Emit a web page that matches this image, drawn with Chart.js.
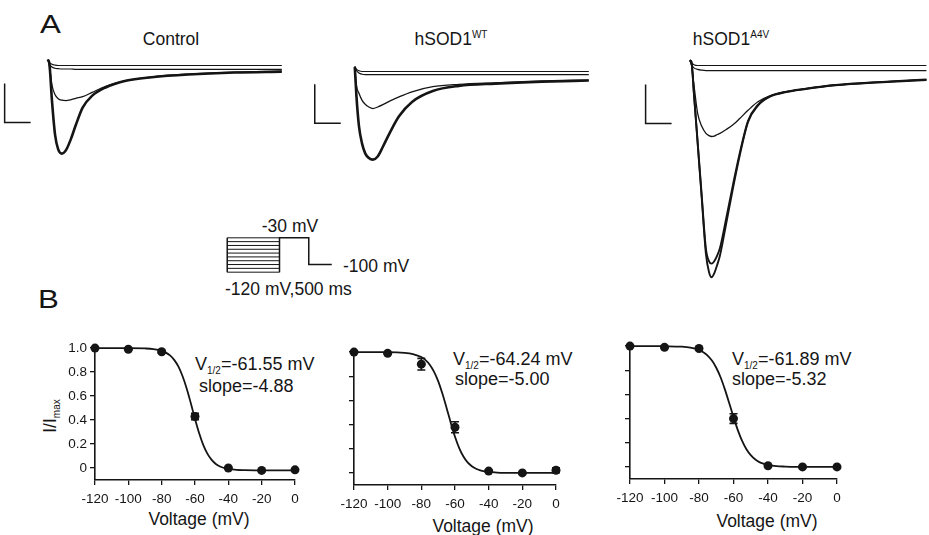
<!DOCTYPE html>
<html>
<head>
<meta charset="utf-8">
<script src="https://cdn.jsdelivr.net/npm/chart.js@4"></script>
<style>
body { margin: 0; background: #fff; width: 929px; height: 535px; position: relative; overflow: hidden;
       font-family: "Liberation Sans", Arial, sans-serif; color: #151515; }
canvas { position: absolute; }
.t { position: absolute; line-height: 1; white-space: nowrap; font-size: 17.5px; }
.c { transform: translateX(-50%); }
.big { font-size: 25px; transform: scaleX(1.25); transform-origin: left top; }
.ann { font-size: 18px; }
.sup { font-size: 10px; position: relative; top: -7px; }
.sub { font-size: 10px; position: relative; top: 4px; }
</style>
</head>
<body>

<div class="t big" style="left:40px;top:12px">A</div>
<div class="t big" style="left:38px;top:287px">B</div>

<div class="t c" style="left:171px;top:31px">Control</div>
<div class="t c" style="left:451px;top:31px">hSOD1<span class="sup">WT</span></div>
<div class="t c" style="left:731px;top:31px">hSOD1<span class="sup">A4V</span></div>

<div class="t c" style="left:290px;top:218px">-30 mV</div>
<div class="t" style="left:343px;top:258px">-100 mV</div>
<div class="t" style="left:225px;top:281px">-120 mV,500 ms</div>

<div class="t ann" style="left:195px;top:355px">V<span class="sub">1/2</span>=-61.55 mV</div>
<div class="t ann" style="left:199px;top:377px">slope=-4.88</div>
<div class="t ann" style="left:453px;top:350px">V<span class="sub">1/2</span>=-64.24 mV</div>
<div class="t ann" style="left:455px;top:370px">slope=-5.00</div>
<div class="t ann" style="left:732px;top:350px">V<span class="sub">1/2</span>=-61.89 mV</div>
<div class="t ann" style="left:732px;top:370px">slope=-5.32</div>

<div class="t c" style="left:199px;top:511px">Voltage (mV)</div>
<div class="t c" style="left:483px;top:518px">Voltage (mV)</div>
<div class="t c" style="left:767px;top:513px">Voltage (mV)</div>

<div class="t" style="left:20px;top:406px;width:60px;height:20px;line-height:20px;text-align:center;transform:rotate(-90deg)">I/I<span class="sub">max</span></div>

<canvas id="trCtrl" width="286" height="234" style="left:1px;top:46px"></canvas>
<canvas id="trWt" width="286" height="234" style="left:308px;top:52px"></canvas>
<canvas id="trA4v" width="286" height="234" style="left:643px;top:46px"></canvas>
<canvas id="proto" width="115" height="42" style="left:222px;top:234px"></canvas>
<canvas id="bCtrl" width="267" height="171" style="left:40px;top:337px"></canvas>
<canvas id="bWt" width="269" height="172" style="left:299px;top:341px"></canvas>
<canvas id="bA4v" width="274" height="172" style="left:575px;top:335px"></canvas>

<script>
// ---- A: sodium current traces, time in ms, current in nA ----
const ctrlTime  = [0, 0.3, 0.8, 1.4, 2, 2.7, 3.5, 4.4, 5.4, 6.7, 8.5, 11, 15, 20, 27, 36, 45];
const ctrlBig   = [0.15, 0.05, -0.9, -1.78, -2.15, -2.26, -2.17, -1.9, -1.52, -1.08, -0.78, -0.57, -0.39, -0.3, -0.23, -0.18, -0.16];
const ctrlMid   = [0.15, 0.0, -0.5, -0.75, -0.85, -0.89, -0.9, -0.88, -0.84, -0.8, -0.69, -0.54, -0.39, -0.29, -0.22, -0.17, -0.14];
const ctrlFlatA = [0.15, 0.08, 0.03, 0.01, 0, 0, 0, 0, 0, 0, 0, 0, 0, 0, 0, 0, 0];
const ctrlFlatB = [0.15, 0.04, -0.04, -0.07, -0.08, -0.09, -0.09, -0.09, -0.1, -0.1, -0.1, -0.1, -0.1, -0.1, -0.1, -0.1, -0.1];
const ctrlBarT  = [-8.3, -8.3, -3.3];
const ctrlBarI  = [-0.46, -1.46, -1.46];

const wtTime  = [0, 0.3, 0.8, 1.4, 2, 2.7, 3.5, 4.4, 5.4, 6.7, 8.5, 11, 15, 20, 27, 36, 45];
const wtBig   = [0.12, -0.6, -1.4, -1.85, -2.1, -2.22, -2.26, -2.18, -1.93, -1.58, -1.15, -0.78, -0.5, -0.37, -0.31, -0.26, -0.23];
const wtMid   = [0.12, -0.35, -0.56, -0.74, -0.84, -0.91, -0.95, -0.91, -0.85, -0.76, -0.65, -0.52, -0.39, -0.33, -0.29, -0.25, -0.22];
const wtFlatA = [0.13, 0.06, 0.02, 0, 0, 0, 0, 0, 0, 0, 0, 0, 0, 0, 0, 0, 0];
const wtFlatB = [0.13, 0.03, -0.04, -0.07, -0.08, -0.08, -0.08, -0.08, -0.08, -0.08, -0.08, -0.08, -0.08, -0.08, -0.08, -0.08, -0.08];
const wtBarT  = [-7.7, -7.7, -2.7];
const wtBarI  = [-0.33, -1.33, -1.33];

const a4vTime  = [0, 0.3, 0.8, 1.5, 2.3, 3.1, 3.7, 4.2, 4.7, 5.3, 5.8, 7, 8.3, 9.6, 11.2, 13.1, 15.4, 18.6, 22, 28, 37, 45.5];
const a4vBig1  = [0.13, 0.1, -0.74, -1.98, -3.41, -4.83, -5.3, -5.43, -5.33, -5.1, -4.87, -4.05, -3.15, -2.31, -1.45, -1.03, -0.8, -0.68, -0.61, -0.51, -0.43, -0.37];
const a4vBig2  = [0.13, 0.1, -0.72, -1.95, -3.35, -4.7, -5.02, -5.08, -5.02, -4.86, -4.68, -3.92, -3.06, -2.25, -1.42, -1.01, -0.79, -0.67, -0.6, -0.5, -0.42, -0.36];
const a4vMid   = [0.13, 0.02, -0.5, -1.22, -1.56, -1.74, -1.8, -1.82, -1.81, -1.77, -1.74, -1.64, -1.52, -1.36, -1.15, -0.93, -0.78, -0.67, -0.6, -0.5, -0.42, -0.36];
const a4vFlatA = [0.13, 0.07, 0.02, 0, 0, 0, 0, 0, 0, 0, 0, 0, 0, 0, 0, 0, 0, 0, 0, 0, 0, 0];
const a4vFlatB = [0.13, 0.03, -0.06, -0.1, -0.12, -0.13, -0.13, -0.13, -0.13, -0.13, -0.13, -0.13, -0.13, -0.13, -0.13, -0.13, -0.13, -0.13, -0.13, -0.13, -0.13, -0.13];
const a4vBarT  = [-8.5, -8.5, -3.5];
const a4vBarI  = [-0.49, -1.49, -1.49];

// voltage protocol: prepulses (mV) for 500 ms, then test step
const protoLevels = [-120, -110, -100, -90, -80, -70, -60, -50, -40, -30];
const protoPreT   = [0, 500];
const protoTestT  = [500, 500, 780, 780, 1000];
const protoTestV  = [-120, -30, -30, -100, -100];

// ---- B: steady-state inactivation ----
const voltages = [-120, -100, -80, -60, -40, -20, 0];
const ctrlNorm = [1.0, 0.99, 0.97, 0.43, 0.0, -0.02, -0.015];
const ctrlErr  = [0, 0.005, 0.01, 0.027, 0.005, 0.005, 0.005];
const wtNorm   = [1.0, 0.99, 0.90, 0.378, 0.015, 0.0, 0.022];
const wtErr    = [0, 0.005, 0.048, 0.045, 0.008, 0.005, 0.02];
const a4vNorm  = [1.0, 0.99, 0.98, 0.40, 0.01, 0.0, 0.0];
const a4vErr   = [0, 0.005, 0.008, 0.04, 0.008, 0.005, 0.005];

// Boltzmann fit lines
const fitV    = [-120, -110, -100, -90, -85, -80, -77.5, -75, -72.5, -70, -67.5, -65, -62.5, -60, -57.5, -55, -52.5, -50, -47.5, -45, -42.5, -40, -35, -30, -20, -10, 0];
const ctrlFit = [1.0, 1.0, 1.0, 0.997, 0.992, 0.978, 0.962, 0.939, 0.902, 0.847, 0.767, 0.663, 0.540, 0.409, 0.290, 0.191, 0.118, 0.068, 0.034, 0.013, 0.0, -0.008, -0.016, -0.018, -0.02, -0.02, -0.02];
const wtFit   = [1.0, 0.999, 0.999, 0.994, 0.984, 0.959, 0.934, 0.896, 0.839, 0.760, 0.657, 0.538, 0.414, 0.300, 0.206, 0.136, 0.087, 0.055, 0.034, 0.021, 0.013, 0.008, 0.003, 0.001, 0.0, 0.0, 0.0];
const a4vFit  = [1.0, 1.0, 0.999, 0.995, 0.987, 0.968, 0.949, 0.922, 0.880, 0.821, 0.742, 0.642, 0.529, 0.412, 0.305, 0.215, 0.146, 0.097, 0.063, 0.040, 0.026, 0.016, 0.006, 0.003, 0.0, 0.0, 0.0];

const xTicks = [-120, -100, -80, -60, -40, -20, 0];
const yTicks = [0, 0.2, 0.4, 0.6, 0.8, 1.0];

Chart.defaults.font.family = '"Liberation Sans", Arial, sans-serif';
const ink = '#151515';

function xy(xs, ys) {
  return xs.map((x, i) => ({ x: x, y: ys[i] }));
}

function line(data, width, smooth) {
  return {
    data: data, showLine: true, pointRadius: 0, borderColor: ink, borderWidth: width,
    cubicInterpolationMode: smooth ? 'monotone' : 'default', tension: 0, clip: false
  };
}

const bareOpts = (xmin, xmax, ymin, ymax) => ({
  responsive: false, animation: false, events: [],
  layout: { padding: 0 },
  plugins: { legend: { display: false }, tooltip: { enabled: false } },
  scales: {
    x: { type: 'linear', display: false, min: xmin, max: xmax },
    y: { type: 'linear', display: false, min: ymin, max: ymax }
  }
});

function traceChart(id, time, big, mid, flatA, flatB, barT, barI, big2) {
  const sets = [
    line(xy(time, flatA), 1.2, true),
    line(xy(time, flatB), 1.2, true),
    line(xy(time, mid), 1.3, true),
    line(xy(time, big), big2 ? 1.9 : 2.6, true),
    line(xy(barT, barI), 1.5, false)
  ];
  if (big2) sets.push(line(xy(time, big2), 1.9, true));
  new Chart(document.getElementById(id), {
    type: 'scatter',
    data: { datasets: sets },
    options: bareOpts(-9, 46, -5.5, 0.5)
  });
}

traceChart('trCtrl', ctrlTime, ctrlBig, ctrlMid, ctrlFlatA, ctrlFlatB, ctrlBarT, ctrlBarI);
traceChart('trWt', wtTime, wtBig, wtMid, wtFlatA, wtFlatB, wtBarT, wtBarI);
traceChart('trA4v', a4vTime, a4vBig1, a4vMid, a4vFlatA, a4vFlatB, a4vBarT, a4vBarI, a4vBig2);

// protocol
const protoSets = protoLevels.map(v => line(xy(protoPreT, [v, v]), 1, false));
protoSets.push(line(xy([0, 0], [protoLevels[0], protoLevels[protoLevels.length - 1]]), 1.5, false));
protoSets.push(line(xy(protoTestT, protoTestV), 1.5, false));
new Chart(document.getElementById('proto'), {
  type: 'scatter',
  data: { datasets: protoSets },
  options: bareOpts(-50, 1050, -130, -20)
});

// error bars drawn under the markers
const errorBars = {
  id: 'errorBars',
  beforeDatasetsDraw(chart) {
    const ctx = chart.ctx, y = chart.scales.y;
    chart.data.datasets.forEach((ds, i) => {
      if (!ds.errs) return;
      chart.getDatasetMeta(i).data.forEach((pt, j) => {
        const e = ds.errs[j];
        if (!e) return;
        const v = ds.data[j].y;
        const top = y.getPixelForValue(v + e), bot = y.getPixelForValue(v - e);
        ctx.save();
        ctx.strokeStyle = ink;
        ctx.lineWidth = 1.6;
        ctx.beginPath();
        ctx.moveTo(pt.x, top); ctx.lineTo(pt.x, bot);
        ctx.moveTo(pt.x - 4, top); ctx.lineTo(pt.x + 4, top);
        ctx.moveTo(pt.x - 4, bot); ctx.lineTo(pt.x + 4, bot);
        ctx.stroke();
        ctx.restore();
      });
    });
  }
};

function boltzChart(id, norm, err, fit, labels) {
  const axisLine = { display: true, color: ink, width: 1.6 };
  const tickMarks = { display: true, drawOnChartArea: false, drawTicks: true, tickLength: 5, color: ink, lineWidth: 1.3 };
  new Chart(document.getElementById(id), {
    type: 'scatter',
    data: {
      datasets: [
        line(xy(fitV, fit), 1.8, true),
        { data: xy(voltages, norm), errs: err, showLine: false, pointRadius: 4.5,
          pointBackgroundColor: ink, pointBorderColor: ink, pointBorderWidth: 0, clip: false }
      ]
    },
    options: {
      responsive: false, animation: false, events: [],
      layout: { padding: { left: 0, right: 12, top: 8, bottom: 0 } },
      plugins: { legend: { display: false }, tooltip: { enabled: false } },
      scales: {
        x: {
          type: 'linear', min: -120, max: 0,
          afterBuildTicks: s => { s.ticks = xTicks.map(v => ({ value: v })); },
          afterFit: s => { s.height = 28; },
          ticks: { color: ink, font: { size: 13.5 }, padding: 6, autoSkip: false, maxRotation: 0, minRotation: 0 },
          grid: tickMarks, border: axisLine
        },
        y: {
          type: 'linear', min: -0.1, max: 1.0,
          afterBuildTicks: s => { s.ticks = yTicks.map(v => ({ value: v })); },
          afterFit: s => { s.width = 55; },
          ticks: { color: ink, font: { size: 13.5 }, padding: 3,
                   callback: v => labels ? (v === 0 ? '0' : v.toFixed(1)) : '' },
          grid: tickMarks, border: axisLine
        }
      }
    },
    plugins: [errorBars]
  });
}

boltzChart('bCtrl', ctrlNorm, ctrlErr, ctrlFit, true);
boltzChart('bWt', wtNorm, wtErr, wtFit, false);
boltzChart('bA4v', a4vNorm, a4vErr, a4vFit, false);
</script>
</body>
</html>
